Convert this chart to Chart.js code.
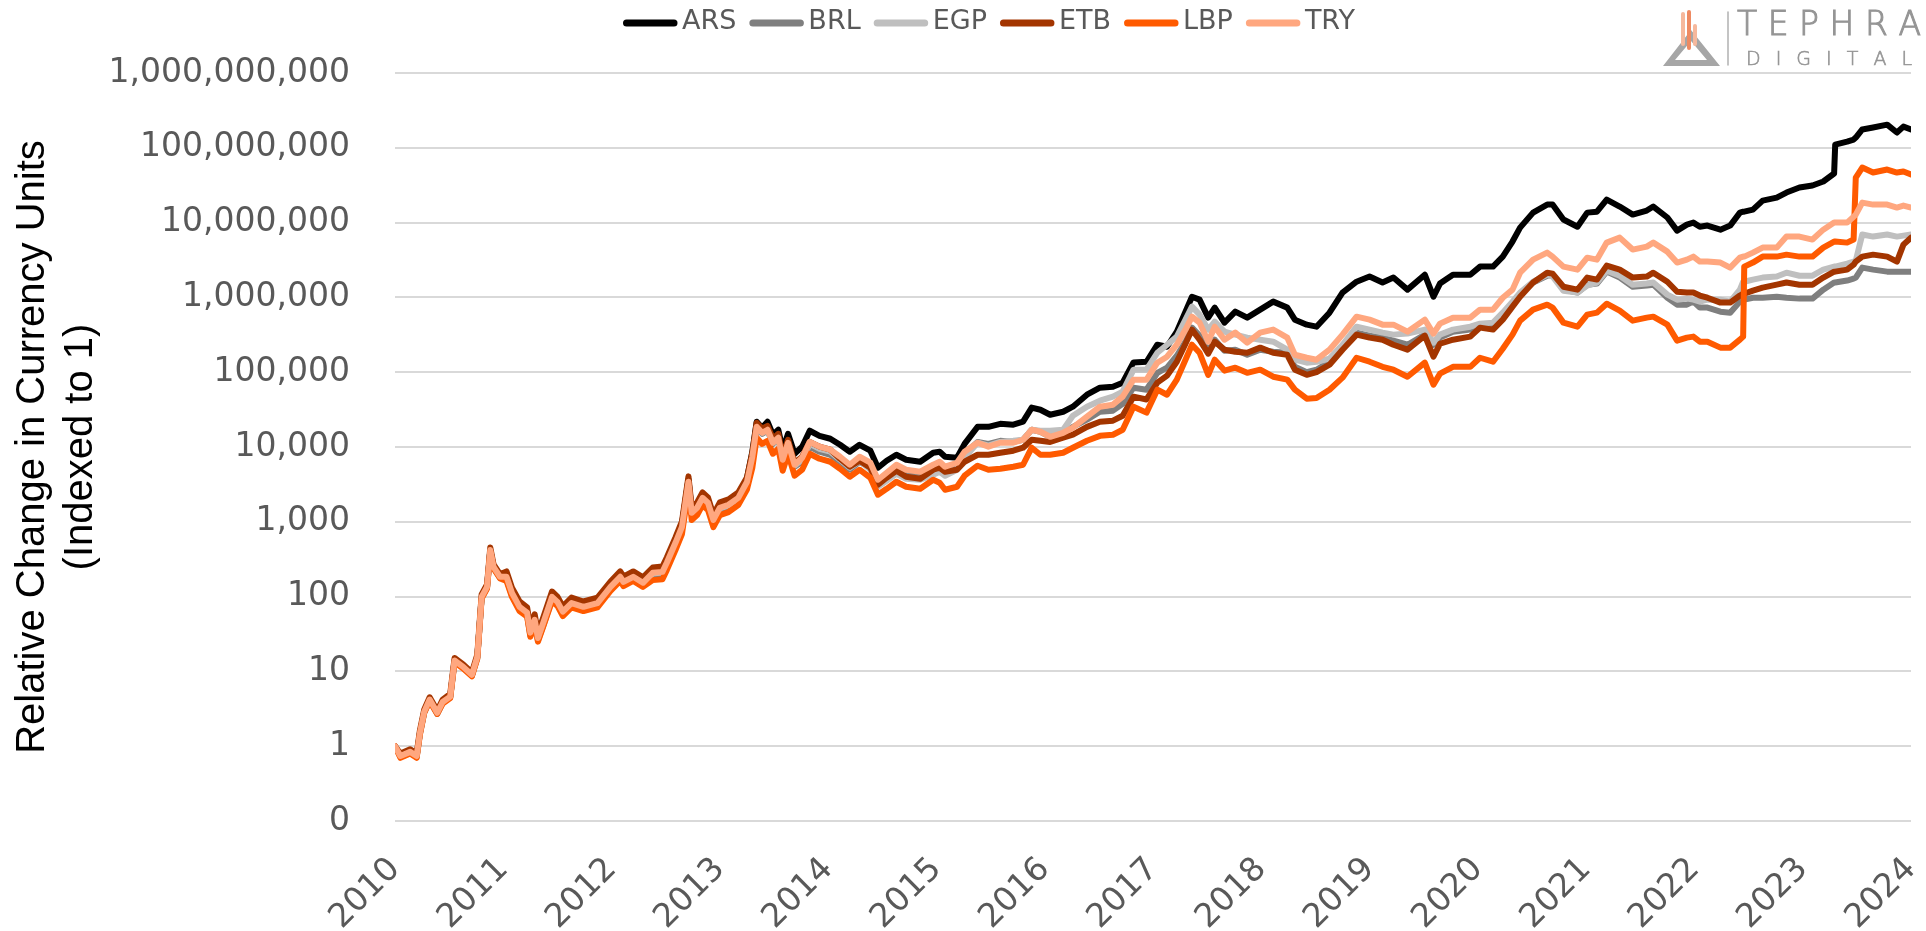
<!DOCTYPE html>
<html>
<head>
<meta charset="utf-8">
<script src="https://cdn.jsdelivr.net/npm/chart.js@4.4.1/dist/chart.umd.min.js"></script>
<style>
  html, body { margin: 0; padding: 0; background: #fff; }
  #wrap { width: 1926px; height: 931px; }
</style>
</head>
<body>
<div id="wrap"><canvas id="myChart" width="1926" height="931"></canvas></div>
<script>
// x positions (decimal years, as placed on the chart axis)
const dates = [
  2010.00, 2010.05, 2010.14, 2010.20, 2010.23, 2010.27, 2010.32, 2010.39, 2010.44, 2010.51,
  2010.55, 2010.63, 2010.71, 2010.76, 2010.80, 2010.85, 2010.88, 2010.91, 2010.97, 2011.03,
  2011.08, 2011.15, 2011.22, 2011.25, 2011.29, 2011.32, 2011.37, 2011.45, 2011.50, 2011.55,
  2011.63, 2011.74, 2011.87, 2011.99, 2012.08, 2012.11, 2012.20, 2012.29, 2012.38, 2012.47,
  2012.51, 2012.59, 2012.65, 2012.71, 2012.74, 2012.79, 2012.84, 2012.89, 2012.94, 2013.00,
  2013.08, 2013.17,
  2013.25, 2013.30, 2013.34, 2013.39, 2013.44, 2013.49, 2013.54, 2013.58, 2013.63, 2013.69,
  2013.76, 2013.83, 2013.92, 2014.02, 2014.11, 2014.20, 2014.29, 2014.39, 2014.46, 2014.54,
  2014.63, 2014.72, 2014.85, 2014.97, 2015.03, 2015.08, 2015.19, 2015.26, 2015.38, 2015.48,
  2015.59, 2015.71, 2015.80, 2015.88, 2015.96, 2016.05, 2016.17, 2016.26, 2016.39, 2016.51,
  2016.63, 2016.72, 2016.82, 2016.94, 2017.04, 2017.13, 2017.22, 2017.30, 2017.36, 2017.43,
  2017.51, 2017.57, 2017.66, 2017.76, 2017.87, 2017.99, 2018.11, 2018.24, 2018.31, 2018.42,
  2018.51, 2018.63, 2018.75, 2018.88, 2019.00, 2019.12, 2019.22, 2019.35, 2019.51, 2019.59,
  2019.65, 2019.77, 2019.93, 2020.02, 2020.14, 2020.23, 2020.32, 2020.39, 2020.51, 2020.64,
  2020.69, 2020.79, 2020.92, 2021.01, 2021.10, 2021.19, 2021.31, 2021.43, 2021.56, 2021.62,
  2021.75, 2021.84, 2021.93, 2021.99, 2022.05, 2022.12, 2022.24, 2022.33, 2022.42, 2022.45,
  2022.46, 2022.54, 2022.63, 2022.76, 2022.85, 2022.97, 2023.09, 2023.19, 2023.29, 2023.30,
  2023.41, 2023.47, 2023.49, 2023.55, 2023.65, 2023.78, 2023.87, 2023.93, 2024.00
];

const ars = [
  1, 0.74, 0.84, 0.74, 1.5, 2.9, 4.2, 2.8, 3.9, 4.6,
  14, 11.5, 9.0, 15.6, 99, 135, 420, 250, 184, 190,
  115, 75, 63, 34, 50, 29, 46, 102, 88, 65,
  84, 75, 84, 139, 190, 162, 190, 158, 225, 231,
  306, 566, 926, 3700, 1430, 1660, 2260, 1940, 1140, 1660,
  1830, 2260,
  3800, 8650, 21800, 18100, 21800, 14600, 17000, 9200, 15000, 8130,
  10100, 16500, 14100, 12900, 10700, 8650, 10700, 8920, 5280, 6550,
  7880, 6760, 6350, 8380, 8650, 7410, 7190, 11000, 18600, 18600,
  20400, 19900, 21800, 33600, 31500, 27000, 29600, 34600, 50000, 62100,
  64000, 72400, 135000, 138000, 233000, 219000, 348000, 645000, 1.02e6, 934000,
  536000, 730000, 460000, 645000, 536000, 686000, 878000, 730000, 504000, 432000,
  406000, 625000, 1.16e6, 1.62e6, 1.9e6, 1.58e6, 1.84e6, 1.27e6, 2.01e6, 1.02e6,
  1.53e6, 2.01e6, 2.01e6, 2.58e6, 2.58e6, 3.51e6, 5.58e6, 8.56e6, 1.36e7, 1.74e7,
  1.74e7, 1.1e7, 8.81e6, 1.36e7, 1.4e7, 2.03e7, 1.64e7, 1.28e7, 1.45e7, 1.64e7,
  1.17e7, 7.81e6, 9.4e6, 1.0e7, 8.81e6, 9.12e6, 8.05e6, 9.12e6, 1.36e7, 1.4e7,
  1.4e7, 1.49e7, 1.97e7, 2.16e7, 2.52e7, 2.94e7, 3.13e7, 3.54e7, 4.53e7, 1.1e8,
  1.21e8, 1.29e8, 1.37e8, 1.76e8, 1.87e8, 2.04e8, 1.6e8, 1.92e8, 1.76e8
];

const brl = [
  1, 0.72, 0.81, 0.72, 1.46, 2.8, 4.1, 2.7, 3.8, 4.5,
  13.6, 11.2, 8.7, 15.1, 96, 131, 407, 243, 178, 169,
  103, 67, 56, 30, 45, 26, 41, 91, 78, 58,
  75, 67, 75, 124, 169, 144, 169, 141, 196, 201,
  266, 493, 806, 3220, 1240, 1450, 1960, 1690, 996, 1450,
  1590, 1960,
  3300, 7190, 18100, 15000, 16500, 11000, 12900, 6550, 11000, 5450,
  6350, 10100, 8650, 7880, 6350, 4970, 6350, 5280, 3130, 3880,
  4970, 4260, 4130, 5120, 5620, 4810, 5620, 8130, 11700, 11000,
  12100, 11700, 12500, 17000, 16000, 13700, 15500, 18600, 23200, 29600,
  30600, 37900, 62100, 58400, 98000, 115000, 166000, 256000, 394000, 308000,
  188000, 272000, 194000, 200000, 171000, 200000, 188000, 182000, 118000, 100000,
  108000, 138000, 219000, 338000, 308000, 290000, 264000, 233000, 318000, 233000,
  290000, 348000, 371000, 419000, 432000, 570000, 800000, 1.12e6, 1.58e6, 1.95e6,
  2.01e6, 1.27e6, 1.16e6, 1.48e6, 1.53e6, 2.21e6, 1.84e6, 1.39e6, 1.44e6, 1.48e6,
  990000, 800000, 800000, 878000, 730000, 730000, 645000, 625000, 878000, 933000,
  933000, 990000, 990000, 1.02e6, 990000, 963000, 963000, 1.27e6, 1.58e6, 1.58e6,
  1.68e6, 1.78e6, 1.84e6, 2.5e6, 2.35e6, 2.21e6, 2.21e6, 2.21e6, 2.21e6
];

const egp = [
  1, 0.74, 0.84, 0.74, 1.5, 2.9, 4.2, 2.8, 3.9, 4.6,
  14, 11.5, 9.0, 15.6, 99, 135, 420, 250, 184, 178,
  109, 71, 59, 32, 48, 27, 44, 96, 82, 61,
  80, 71, 80, 131, 178, 152, 178, 148, 204, 210,
  277, 514, 840, 3360, 1290, 1510, 2050, 1760, 1040, 1510,
  1660, 2050,
  3400, 7400, 18600, 15500, 17000, 11400, 13300, 6760, 11400, 5620,
  6760, 11000, 9480, 8650, 6760, 5280, 6550, 4970, 2940, 3540,
  4390, 3760, 3650, 4260, 4670, 4130, 4970, 7190, 11400, 10400,
  11700, 12100, 12500, 17000, 16500, 16500, 17000, 26200, 34600, 41600,
  47100, 54900, 108000, 108000, 182000, 233000, 299000, 504000, 753000, 588000,
  371000, 474000, 348000, 318000, 290000, 272000, 256000, 200000, 147000, 134000,
  138000, 152000, 233000, 406000, 371000, 338000, 318000, 328000, 371000, 248000,
  318000, 371000, 406000, 446000, 460000, 625000, 878000, 1.16e6, 1.62e6, 2.01e6,
  1.9e6, 1.23e6, 1.16e6, 1.44e6, 1.58e6, 2.28e6, 1.95e6, 1.48e6, 1.53e6, 1.58e6,
  1.09e6, 933000, 963000, 933000, 878000, 933000, 933000, 878000, 1.27e6, 1.62e6,
  1.62e6, 1.73e6, 1.84e6, 1.9e6, 2.14e6, 1.95e6, 1.95e6, 2.35e6, 2.58e6, 2.58e6,
  2.83e6, 3.01e6, 3.1e6, 6.92e6, 6.5e6, 6.92e6, 6.5e6, 6.7e6, 6.92e6
];

const etb = [
  1, 0.8, 0.91, 0.8, 1.62, 3.1, 4.5, 3.0, 4.2, 5.0,
  15.1, 12.4, 9.7, 16.8, 107, 146, 454, 270, 199, 217,
  132, 86, 72, 39, 58, 33, 53, 117, 100, 74,
  97, 86, 97, 159, 217, 185, 217, 181, 245, 253,
  334, 618, 1010, 4050, 1560, 1820, 2470, 2120, 1250, 1820,
  1990, 2470,
  3900, 8380, 21100, 17600, 19200, 12900, 15000, 7410, 12500, 6160,
  7410, 11700, 10100, 9200, 6970, 5450, 6550, 5280, 3130, 3880,
  4810, 4000, 3760, 4970, 5280, 4670, 4970, 6350, 7880, 7880,
  8380, 8920, 9780, 12500, 12100, 11700, 13300, 14600, 18600, 21800,
  22500, 26200, 47100, 43200, 72400, 90000, 138000, 240000, 371000, 272000,
  177000, 256000, 200000, 188000, 182000, 213000, 182000, 171000, 108000, 92200,
  100000, 126000, 200000, 318000, 290000, 272000, 233000, 200000, 308000, 161000,
  240000, 272000, 299000, 394000, 371000, 504000, 753000, 1.02e6, 1.58e6, 2.14e6,
  2.08e6, 1.39e6, 1.27e6, 1.84e6, 1.73e6, 2.66e6, 2.35e6, 1.84e6, 1.9e6, 2.14e6,
  1.62e6, 1.19e6, 1.16e6, 1.16e6, 1.06e6, 990000, 852000, 852000, 1.06e6, 1.12e6,
  1.12e6, 1.23e6, 1.35e6, 1.48e6, 1.58e6, 1.48e6, 1.48e6, 1.84e6, 2.21e6, 2.21e6,
  2.35e6, 2.74e6, 3.01e6, 3.51e6, 3.73e6, 3.51e6, 3.01e6, 5.08e6, 6.3e6
];

const lbp = [
  1, 0.7, 0.8, 0.7, 1.43, 2.8, 4.0, 2.7, 3.7, 4.4,
  13.3, 10.9, 8.6, 14.8, 94, 128, 399, 238, 175, 162,
  99, 64, 54, 29, 43, 25, 40, 87, 75, 55,
  72, 64, 72, 119, 162, 138, 162, 135, 166, 171,
  226, 419, 686, 2740, 1060, 1230, 1670, 1440, 848, 1230,
  1350, 1670,
  2700, 5280, 13300, 11000, 12100, 8130, 9480, 4810, 8130, 4130,
  4970, 8130, 6970, 6350, 5120, 4000, 4970, 3880, 2300, 2760,
  3430, 2940, 2760, 3650, 3330, 2680, 2940, 4130, 5620, 4970,
  5120, 5450, 5790, 9780, 7880, 7880, 8380, 9780, 12100, 14100,
  14600, 17000, 34600, 28800, 58400, 50000, 79500, 147000, 233000, 182000,
  92200, 147000, 105000, 115000, 98000, 108000, 87000, 79500, 58400, 44300,
  45100, 58400, 84500, 156000, 138000, 118000, 108000, 87000, 134000, 68200,
  95500, 118000, 118000, 156000, 138000, 206000, 318000, 489000, 686000, 800000,
  730000, 460000, 406000, 588000, 625000, 824000, 665000, 489000, 536000, 553000,
  432000, 264000, 290000, 299000, 256000, 256000, 213000, 213000, 272000, 299000,
  2.58e6, 2.92e6, 3.51e6, 3.51e6, 3.73e6, 3.51e6, 3.51e6, 4.63e6, 5.58e6, 5.58e6,
  5.4e6, 5.93e6, 4.0e7, 5.45e7, 4.67e7, 5.12e7, 4.67e7, 4.81e7, 4.39e7
];

const tryVals = [
  1, 0.74, 0.84, 0.74, 1.5, 2.9, 4.2, 2.8, 3.9, 4.6,
  14, 11.5, 9.0, 15.6, 99, 135, 420, 250, 184, 184,
  112, 73, 61, 33, 49, 28, 45, 99, 85, 63,
  82, 73, 82, 135, 184, 157, 184, 153, 208, 214,
  283, 524, 857, 3430, 1320, 1540, 2090, 1800, 1060, 1540,
  1690, 2090,
  3400, 7400, 18600, 15500, 17000, 11400, 13300, 6760, 11400, 5790,
  7190, 11700, 10100, 9200, 7410, 5790, 7410, 6160, 3650, 4530,
  5790, 4970, 4670, 5790, 6350, 5450, 6160, 8650, 11400, 10100,
  11400, 11400, 12500, 17000, 16000, 13700, 15500, 18100, 25400, 34600,
  36800, 47100, 79500, 79500, 134000, 161000, 233000, 371000, 553000, 460000,
  256000, 406000, 272000, 338000, 248000, 338000, 371000, 290000, 171000, 156000,
  147000, 200000, 318000, 553000, 504000, 432000, 432000, 348000, 504000, 328000,
  446000, 536000, 536000, 686000, 686000, 990000, 1.27e6, 2.14e6, 3.2e6, 3.97e6,
  3.51e6, 2.58e6, 2.35e6, 3.4e6, 3.2e6, 5.4e6, 6.3e6, 4.36e6, 4.78e6, 5.4e6,
  4.09e6, 2.92e6, 3.2e6, 3.51e6, 3.01e6, 3.01e6, 2.92e6, 2.5e6, 3.4e6, 3.51e6,
  3.51e6, 3.97e6, 4.63e6, 4.63e6, 6.5e6, 6.5e6, 5.93e6, 8.05e6, 1.0e7, 1.0e7,
  1.0e7, 1.2e7, 1.28e7, 1.85e7, 1.74e7, 1.74e7, 1.59e7, 1.69e7, 1.59e7
];

const names = ['ARS', 'BRL', 'EGP', 'ETB', 'LBP', 'TRY'];
const seriesValues = [ars, brl, egp, etb, lbp, tryVals];
const colors = ['#000000', '#7f7f7f', '#bfbfbf', '#a33500', '#ff5a00', '#ffa77f'];
const yTicks = [0.1, 1, 10, 100, 1000, 10000, 100000, 1000000, 10000000, 100000000, 1000000000];

Chart.defaults.font.family = '"DejaVu Sans", sans-serif';

// legend (line samples) and the logo in the top right corner
const legendAndLogo = {
  id: 'legendAndLogo',
  afterDraw(chart) {
    const ctx = chart.ctx;
    ctx.save();

    ctx.font = '27px "DejaVu Sans"';
    ctx.textBaseline = 'middle';
    ctx.textAlign = 'left';
    let x = 623;
    const y = 22;
    chart.data.datasets.forEach(ds => {
      ctx.strokeStyle = ds.borderColor;
      ctx.lineWidth = 7;
      ctx.lineCap = 'round';
      ctx.beginPath();
      ctx.moveTo(x + 3.5, y + 1);
      ctx.lineTo(x + 51, y + 1);
      ctx.stroke();
      ctx.fillStyle = '#595959';
      ctx.fillText(ds.label, x + 59, y);
      x += 59 + ctx.measureText(ds.label).width + 13;
    });

    // logo mark
    ctx.fillStyle = '#a6a6a6';
    ctx.beginPath();
    ctx.moveTo(1663, 66); ctx.lineTo(1720, 66); ctx.lineTo(1691, 30); ctx.closePath();
    ctx.moveTo(1675, 60); ctx.lineTo(1707, 60); ctx.lineTo(1691, 41); ctx.closePath();
    ctx.fill('evenodd');
    ctx.lineCap = 'round';
    ctx.lineWidth = 4;
    [[1683, 14, 44, '#f6b89c'], [1689, 12, 48, '#ee8a62'], [1695, 26, 44, '#f6b89c']].forEach(b => {
      ctx.strokeStyle = b[3];
      ctx.beginPath(); ctx.moveTo(b[0], b[1]); ctx.lineTo(b[0], b[2]); ctx.stroke();
    });
    ctx.strokeStyle = '#b0b0b0';
    ctx.lineWidth = 1.5;
    ctx.beginPath(); ctx.moveTo(1728, 12); ctx.lineTo(1728, 65); ctx.stroke();

    // spaced-out logo text
    const spaced = (text, x0, x1, yBase, font, thick) => {
      ctx.font = font;
      ctx.lineWidth = thick;
      const widths = [...text].map(c => ctx.measureText(c).width);
      const total = widths.reduce((a, b) => a + b, 0);
      const gap = (x1 - x0 - total) / (text.length - 1);
      let cx = x0;
      [...text].forEach((c, i) => {
        ctx.fillText(c, cx, yBase);
        ctx.strokeText(c, cx, yBase);
        cx += widths[i] + gap;
      });
    };
    ctx.fillStyle = '#959595';
    ctx.strokeStyle = '#959595';
    ctx.textBaseline = 'alphabetic';
    spaced('TEPHRA', 1737, 1921, 35, '200 33px "DejaVu Sans"', 1);
    spaced('DIGITAL', 1746, 1912, 65, '200 19px "DejaVu Sans"', 0.6);

    ctx.restore();
  }
};

new Chart(document.getElementById('myChart'), {
  type: 'line',
  data: {
    datasets: names.map((name, i) => ({
      label: name,
      data: dates.map((d, j) => ({ x: d, y: seriesValues[i][j] })),
      borderColor: colors[i],
      backgroundColor: colors[i],
      borderWidth: 6,
      pointRadius: 0,
      tension: 0,
      borderJoinStyle: 'round',
      borderCapStyle: 'round',
      order: names.length - i
    }))
  },
  options: {
    responsive: false,
    animation: false,
    devicePixelRatio: 1,
    layout: { padding: { top: 73, right: 15, bottom: 0, left: 0 } },
    plugins: {
      legend: { display: false },
      tooltip: { enabled: false }
    },
    scales: {
      x: {
        type: 'linear',
        min: 2010,
        max: 2024,
        grid: { display: false, drawTicks: false },
        border: { display: false },
        ticks: {
          stepSize: 1,
          autoSkip: false,
          minRotation: 45,
          maxRotation: 45,
          padding: 29,
          color: '#595959',
          font: { size: 33 },
          callback: v => String(v)
        },
        afterFit: s => {
          s.height = 110;
          s.paddingLeft = 0;
          s.paddingRight = 0;
        }
      },
      y: {
        type: 'logarithmic',
        min: 0.1,
        max: 1e9,
        grid: { color: '#d9d9d9', lineWidth: 2, drawTicks: false },
        border: { display: false },
        afterBuildTicks: s => { s.ticks = yTicks.map(v => ({ value: v })); },
        ticks: {
          padding: 45,
          color: '#595959',
          font: { size: 33 },
          callback: v => v < 1 ? '0' : Number(v).toLocaleString('en-US')
        },
        title: {
          display: true,
          text: ['Relative Change in Currency Units', '(Indexed to 1)'],
          color: '#000000',
          font: { family: '"Liberation Sans"', size: 40 },
          padding: { top: 9, bottom: 0 }
        },
        afterFit: s => { s.width = 395; }
      }
    }
  },
  plugins: [legendAndLogo]
});
</script>
</body>
</html>
